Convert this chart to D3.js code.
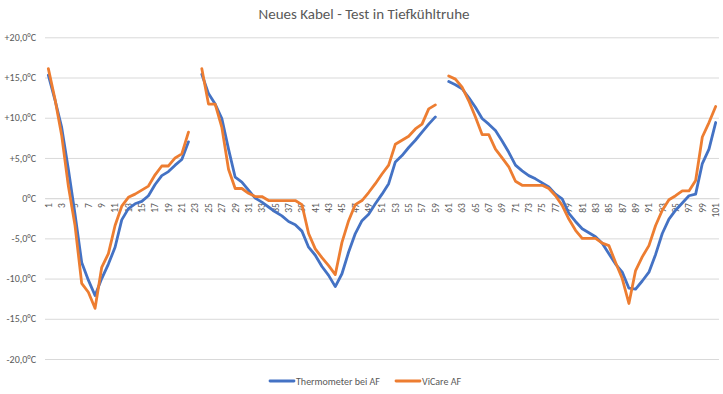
<!DOCTYPE html>
<html><head><meta charset="utf-8">
<script src="https://cdn.jsdelivr.net/npm/d3@7"></script>
<style>body{margin:0;background:#fff}svg{display:block}</style>
</head><body>
<svg id="chart" width="723" height="394"></svg>
<script>
const title = "Neues Kabel - Test in Tiefkühltruhe";
const categories = d3.range(1, 102);
const seriesNames = ["Thermometer bei AF", "ViCare AF"];
const yTicks = [20, 15, 10, 5, 0, -5, -10, -15, -20];
const yTickLabels = ["+20,0°C","+15,0°C","+10,0°C","+5,0°C","0°C","-5,0°C","-10,0°C","-15,0°C","-20,0°C"];
const xTickLabels = categories.filter(c => c % 2 === 1).map(String);
// null = no value (gap)
const thermometer = [
 15.3,12.2,8.8,3.6,-2.0,-8.0,-10.2,-12.1,-10.0,-8.2,
 -6.1,-2.7,-1.3,-0.7,-0.4,0.3,1.7,2.8,3.3,4.1,
 4.8,7.0,null,15.4,13.0,11.7,9.9,6.1,2.6,2.0,
 1.0,0.0,-0.5,-1.1,-1.7,-2.2,-2.9,-3.3,-4.1,-6.1,
 -7.1,-8.5,-9.6,-11.0,-9.4,-6.7,-4.4,-2.8,-2.0,-0.7,
 0.5,1.8,4.5,5.3,6.3,7.2,8.2,9.2,10.1,null,
 14.5,14.1,13.6,12.5,11.3,9.9,9.2,8.4,7.1,5.7,
 4.1,3.4,2.8,2.4,1.9,1.4,0.5,-0.1,-1.9,-2.9,
 -3.8,-4.3,-4.8,-5.6,-6.9,-8.2,-9.2,-11.2,-11.3,-10.3,
 -9.2,-7.0,-4.4,-2.6,-1.5,-0.6,0.3,0.5,4.3,6.1,
 9.4
];
const vicare = [
 16.1,12.3,7.8,1.5,-3.4,-10.6,-11.7,-13.7,-8.6,-6.9,
 -3.4,-1.0,0.1,0.5,1.0,1.5,2.9,4.0,4.0,5.0,
 5.5,8.2,null,16.1,11.7,11.7,8.8,3.6,1.2,1.2,
 0.6,0.2,0.2,-0.3,-0.3,-0.3,-0.3,-0.3,-0.8,-4.4,
 -6.3,-7.4,-8.4,-9.5,-5.5,-2.8,-0.8,-0.3,0.7,1.8,
 3.0,4.1,6.7,7.2,7.7,8.6,9.2,11.1,11.6,null,
 15.2,14.8,13.8,12.1,10.1,7.9,7.9,6.1,5.0,3.9,
 2.1,1.6,1.6,1.6,1.6,1.2,0.3,-0.9,-2.6,-4.0,
 -5.0,-5.0,-5.0,-5.6,-5.9,-8.0,-10.0,-13.1,-9.0,-7.3,
 -5.9,-3.4,-1.5,-0.2,0.3,0.9,0.9,2.2,7.6,9.4,
 11.4
];
const colors = ["#4472C4", "#ED7D31"];

const svg = d3.select("#chart");
const plot = {left: 45, right: 719, top: 37.3, bottom: 359};
const x = d3.scaleBand().domain(categories).range([plot.left, plot.right]);
const y = d3.scaleLinear().domain([-20, 20]).range([plot.bottom, plot.top]);
const font = "Calibri, Carlito, Lato, 'Liberation Sans', sans-serif";

svg.append("text").attr("x", 364).attr("y", 19).attr("text-anchor", "middle")
  .attr("font-family", font).attr("font-size", 15).attr("fill", "#595959").text(title);

// grid
const yAxis = d3.axisLeft(y).tickValues(yTicks).tickSize(-(plot.right - plot.left))
  .tickFormat((d, i) => yTickLabels[i]);
const gy = svg.append("g").attr("transform", `translate(${plot.left},0)`).call(yAxis);
gy.select(".domain").remove();
gy.selectAll(".tick line").attr("stroke", "#d9d9d9").attr("stroke-width", 1);
gy.selectAll(".tick text").attr("x", -9).attr("font-family", font).attr("font-size", 10)
  .attr("fill", "#595959");

// x axis at zero
const xAxis = d3.axisBottom(x).tickValues(categories.filter(c => c % 2 === 1))
  .tickSize(0).tickFormat(d => String(d));
const gx = svg.append("g").attr("transform", `translate(0,${y(0)})`).call(xAxis);
gx.select(".domain").attr("stroke", "#d9d9d9");
gx.selectAll(".tick text").attr("transform", "rotate(-90)")
  .attr("text-anchor", "end").attr("x", -5).attr("y", 0).attr("dy", "0.35em")
  .attr("font-family", font).attr("font-size", 9.5).attr("fill", "#595959");

const line = d3.line()
  .defined(d => d.v !== null)
  .x(d => x(d.c) + x.bandwidth() / 2)
  .y(d => y(d.v));
[thermometer, vicare].forEach((s, i) => {
  svg.append("path").datum(categories.map((c, j) => ({c, v: s[j]})))
    .attr("fill", "none").attr("stroke", colors[i]).attr("stroke-width", 2.8)
    .attr("stroke-linejoin", "round").attr("stroke-linecap", "round").attr("d", line);
});

// legend
const legendItems = [{x: 270, name: seriesNames[0], c: colors[0]}, {x: 396, name: seriesNames[1], c: colors[1]}];
legendItems.forEach(it => {
  svg.append("line").attr("x1", it.x).attr("x2", it.x + 24).attr("y1", 381).attr("y2", 381)
    .attr("stroke", it.c).attr("stroke-width", 2.8).attr("stroke-linecap", "round");
  svg.append("text").attr("x", it.x + 26).attr("y", 384.5).attr("font-family", font)
    .attr("font-size", 10).attr("fill", "#595959").text(it.name);
});
</script>
</body></html>
